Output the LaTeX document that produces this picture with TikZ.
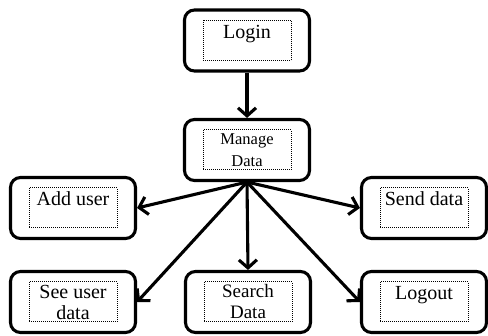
\documentclass[tikz,border=0pt]{standalone}
\usepackage{fontspec}
\setmainfont{Liberation Serif}
\usepackage{tikz}
\usetikzlibrary{arrows.meta}

\tikzset{
  box/.style={draw, rounded corners=10pt, minimum width=125pt, minimum height=61pt,
    inner sep=0pt, align=center, font=\fontsize{20}{20}\selectfont},
  oneline/.style={text height=14pt, text depth=18pt},
  inbox/.style={draw, line width=1pt, dash pattern=on 1pt off 1pt,
    minimum width=88pt, minimum height=40pt, inner sep=0pt},
}

\begin{document}
\begin{tikzpicture}[>={Straight Barb[length=8pt,width=18pt]}, line width=3.1pt, x=1pt, y=1pt]
\useasboundingbox (0,0) rectangle (488,-336);

\node[name=login, box, oneline] at (247,-40.5) {Login};
\node[name=manage, box, node distance=109.5pt, below of=login, font=\fontsize{16.5}{22}\selectfont]{Manage\\Data};
\node[name=add_user, box, oneline, node distance=58pt, below of=manage, xshift=-174pt]{Add user};
\node[name=send_data, box, oneline, node distance=58pt, below of=manage, xshift=177pt]{Send data};
\node[name=see_user, box, node distance=94pt, below of=add_user, font=\fontsize{20}{21}\selectfont]{See user\\data};
\node[name=search_data, box, node distance=152pt, below of=manage, xshift=1pt, font=\fontsize{19}{21}\selectfont]{Search\\Data};
\node[name=logout, box, oneline, node distance=94pt, below of=send_data]{Logout};

% dotted inner frames
\node[name=login_in, inbox] at (login) {};
\node[name=manage_in, inbox] at (manage) {};
\node[name=add_user_in, inbox] at (add_user) {};
\node[name=send_data_in, inbox] at (send_data) {};
\node[name=see_user_in, inbox] at (see_user) {};
\node[name=search_data_in, inbox] at (search_data) {};
\node[name=logout_in, inbox] at (logout) {};

\draw(login.south) edge[->](manage.north);
\draw(manage.south) edge[->](add_user.east);
\draw(manage.south) edge[->](send_data.west);
\draw(manage.south) edge[->](see_user.east);
\draw(manage.south) edge[->](search_data.north);
\draw(manage.south) edge[->](logout.west);

\end{tikzpicture}
\end{document}
